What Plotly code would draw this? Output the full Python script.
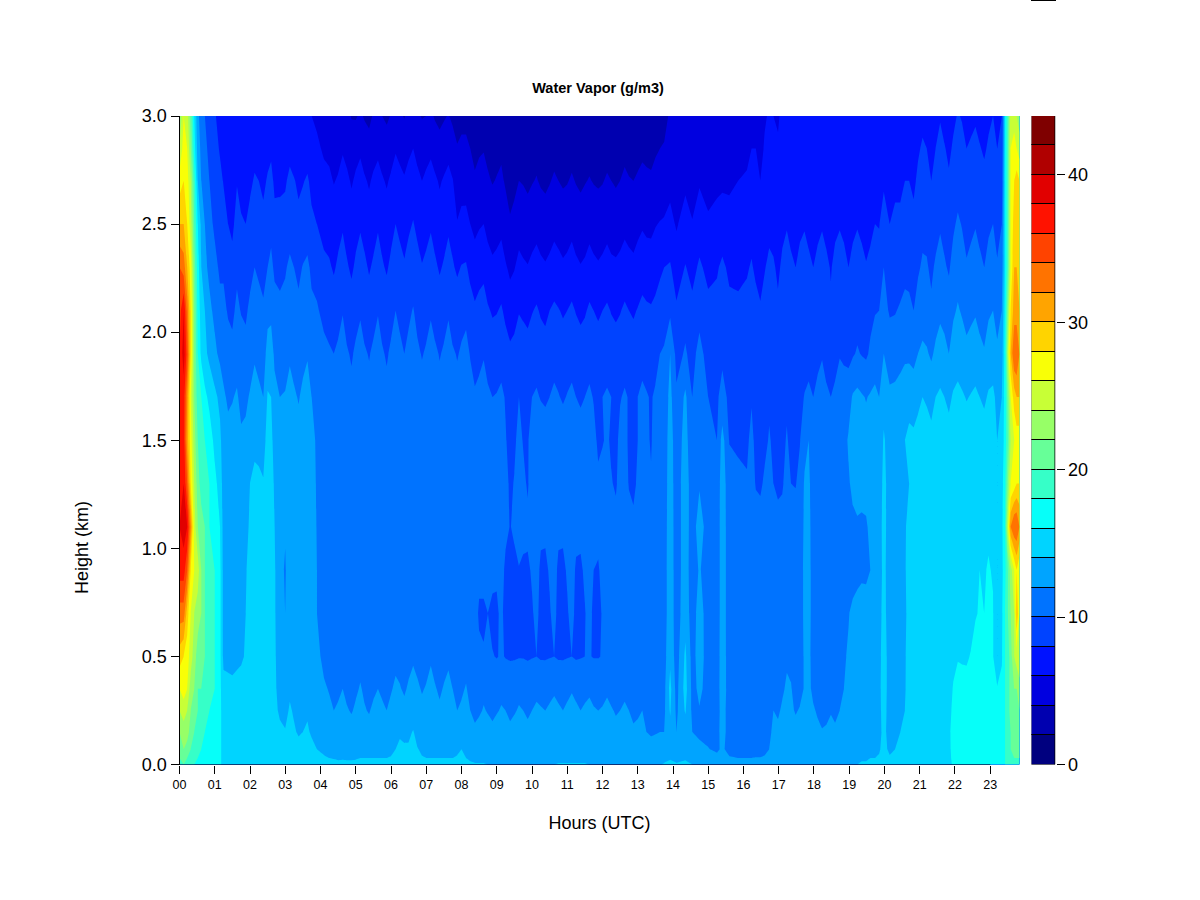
import numpy as np
import plotly.graph_objects as go

heights_km = [0, .03, .07, .15, .25, .35, .5, .7, .9, 1.1, 1.3, 1.5, 1.7, 1.9, 2.1, 2.3, 2.5, 2.7, 2.85, 3.0]

hours = [0, .12, .22, .32, .42, .52, .62, .72, .85, 1.0, 1.15, 1.25, 1.5, 1.75, 2.0, 2.25, 2.5, 2.7, 2.85, 3.0,
         3.25, 3.5, 3.75, 3.9, 4.1, 4.25, 4.5, 4.75, 5.0, 5.25, 5.5, 5.75, 6.0, 6.25, 6.5, 6.75, 7.0, 7.25, 7.5, 7.75,
         8.0, 8.25, 8.5, 8.75, 9.0, 9.25, 9.5, 9.75, 10.0, 10.25, 10.5, 10.75, 11.0, 11.25, 11.5, 11.75, 12.0, 12.25,
         12.5, 12.75, 13.0, 13.25, 13.5, 13.75, 13.92, 14.1, 14.35, 14.55, 14.75, 15.0, 15.25, 15.4, 15.6, 15.85,
         16.1, 16.35, 16.6, 16.85, 17.1, 17.35, 17.6, 17.85, 18.1, 18.35, 18.6, 18.85, 19.1, 19.35, 19.6, 19.85,
         19.98, 20.15, 20.45, 20.7, 20.95, 21.2, 21.45, 21.7, 21.95, 22.2, 22.45, 22.7, 22.95, 23.2, 23.33, 23.42,
         23.5, 23.58, 23.68, 23.75, 23.83]

vapor_profiles = [
    [20,20,21,22,24,26,29,33,37,38,37,36,36,36,35,34,30,27,24,22],
    [20,21,22,23,25,27,28,33,37,39,38,37,37,39,38,33,30,28,27,26],
    [20,20,21,23,24,26,27,29,34,38,34,31,32,35,33,30,28,27,26,25],
    [19,19,20,21,22,23,25,26,28,32,28,27,26,28,28,27,25,24,22,21],
    [18,19,19,20,21,22,23,24,26,25,24,23,22,22,22,21,20,19,17,16],
    [18,18,19,19,20,20,21,23,25,22,21,20,19,18,17.5,17,16,14,13,12.5],
    [18,18,18,19,19,20,21,22,22,21,19,19,18,15.5,15,14,13.5,12,11.5,11],
    [18,18,18,18,19,20,20,20,20,20,19,18,16.5,14.5,14,12.5,12,11,10.5,10],
    [17,18,18,18,18,19,19,19,19,18,18,17,15.5,13.5,12.5,11.5,10.5,10,9.5,9],
    [17,17,17,17,17,18,18,18,18,17,16.5,15.5,14.5,12.5,11.5,10.5,9.7,9.3,8.7,8.2],
    [16.5,16.5,16.5,16.5,16.5,16.5,16.5,16.5,16.5,16,15.3,14.5,13.5,11.5,10.5,9.7,9,8.5,7.8,7.3],
    [15,15,15,15,15,14.7,13.5,13.3,13.3,13.2,13,12.8,12.2,11.5,10.5,9.7,8.7,7.9,7.3,6.5],
    [15,15,15,15,15,14.5,13.3,13,13,12.8,12.4,12.6,11.9,10.5,9.6,8.6,7.6,7,6.5,6],
    [15,15,15,15,15,14.8,13.7,13,13,12.9,12.6,12.3,11.5,10.8,9.9,9,8.2,7.4,6.8,6.2],
    [15,15,15,15,15,15,14.6,14.4,14.4,14.2,14,13.5,12.2,11,10.4,9.4,8.6,7.6,7,6.3],
    [15,15,15,15,15,15,15,15,14.8,14.6,14.2,13.7,12.4,11.4,10.8,9.6,8.9,8,7.2,6.5],
    [15.5,15.2,15,15,15,15,15,15,15,15,14.9,14.6,14.2,12.8,11.4,10,9,8.2,7.4,6.6],
    [15,15,15,14.9,14.6,14.3,14.2,14.2,14.2,14,13.8,13.4,12.6,11.6,10.8,9.6,8.6,7.6,7,6.4],
    [15,15,15,14.5,13.6,13.4,13.3,12.8,12.6,12.8,13,12.8,12,11.2,10.5,9.4,8.5,7.7,7.1,6.4],
    [15,15,14.8,14.1,13.5,13.2,12.8,12,11.8,12.2,12.8,12.6,12.1,11.4,10.6,9.8,8.6,7.8,7.1,6.4],
    [15,15,14.8,14.2,13.8,13.4,13.2,13,13,13.2,13.1,12.8,12.2,11.5,10.8,10,8.8,8.1,7.2,6.5],
    [15,15,14.7,14,13.6,13.2,13,13,13,13,13,12.9,12.3,11.6,10.7,10.1,8.7,7.9,7.1,6.3],
    [15,14.8,14.4,13.8,13.3,13.1,13,12.9,12.9,12.9,12.8,12.6,12,11.3,10.4,9.6,8.3,7.6,6.8,6],
    [15,14.4,14,13.6,13.2,12.8,12.4,12,12,11.9,11.8,11.7,11.4,10.9,10.2,9.3,8,7.4,6.4,5.6],
    [14.8,14.2,13.6,13.2,12.6,12.2,11.6,11.3,11.2,11.2,11.1,11,10.9,10.5,9.5,8.4,7.4,6.6,5.7,4.8],
    [14.6,14,13.4,13,12.3,11.9,11.4,11.1,11.1,11,11,11,10.8,10.2,9.3,8.2,7.3,6.4,5.5,4.8],
    [14.4,13.8,13.2,12.8,12.2,11.7,11.3,11,11,11,11,11,10.8,10.3,9.4,8.3,7.4,6.2,5.3,4.6],
    [14.2,13.9,13.3,12.7,12.1,11.7,11.3,11,11,11,11,11,10.9,10.2,9.2,8.2,7.3,6.4,5.4,4.4],
    [14.3,13.9,13,12.6,12.2,11.8,11.4,11,11,11,11,11,10.8,10.3,9.4,8.3,7.4,6.3,5.4,3.8],
    [14.2,14,13.3,12.7,12.1,11.8,11.3,11,11,11,11,11,10.9,10.2,9.3,8.4,7.3,6.2,5.2,3.8],
    [14.2,14,13.2,12.7,12.3,11.7,11.3,11,11,11,11,11,10.8,10.3,9.4,8.3,7.2,6.3,5.3,4.2],
    [14.3,14,13.3,12.8,12.2,11.8,11.4,11,11,11,11,11,10.9,10.2,9.3,8.2,7.4,6.2,5.2,4],
    [14.4,14.1,13.6,12.9,12.3,11.9,11.4,11,11,11,11,11,10.8,10.3,9.4,8.4,7.4,6.3,5.2,4.1],
    [14.8,14.5,14.3,13.8,12.6,12.1,11.5,11.1,11,11,11,11,10.9,10.4,9.6,8.6,7.6,6.6,5.4,4.2],
    [14.6,14.4,14.2,13.7,12.7,12.2,11.5,11,11,11,11,11,11,10.4,9.7,8.7,7.7,6.7,5.6,4.4],
    [14.5,14.3,14.1,13.4,12.6,12.2,11.6,11,11,11,11.2,11,10.9,10.3,9.5,8.6,7.6,6.5,5.4,4.2],
    [14.3,14,13.5,12.8,12.4,12.1,11.5,11,11,11,11,11,10.8,10.2,9.4,8.4,7.4,6.4,5.3,4],
    [14.2,14,13.5,12.9,12.5,12.1,11.5,11,11,11,11.1,11,10.8,10.3,9.3,8.3,7.3,6.3,5.1,3.8],
    [14.2,14,13.4,12.8,12.4,12.1,11.5,11,11,11,11,11,10.9,10.2,9.4,8.2,7.2,6.2,5,3.8],
    [14.3,14,13.5,12.9,12.3,12,11.4,11,11,11,11,11,10.8,10.2,9.2,8.2,7.3,6.1,4.9,3.6],
    [14.4,14.1,14,13,12.2,11.8,11.2,11,11,11,11,11,10.8,10.2,9.5,8.1,6.5,5.3,4.3,3.6],
    [14.2,13.8,13.4,12.6,12,11.6,10.8,10.2,10.6,11,11,10.9,10.6,9.9,8.9,7.4,6,4.8,4,3.4],
    [14.1,13.7,13.3,12.5,11.8,11.5,10.3,9.8,10.4,11,11,10.9,10.4,9.6,8.6,7.3,5.8,4.5,3.8,3.2],
    [14,13.6,13.2,12.5,11.9,11.4,10.1,10,10.6,11,11,10.8,10.3,9.3,8.2,6.8,5.4,4.2,3.6,3.1],
    [14,13.5,13.2,12.5,11.9,11.4,9.9,9.7,10.3,10.9,11,10.6,10.1,9.1,7.9,6.6,5.2,4.1,3.5,3],
    [14,13.6,13.2,12.5,12,11.5,9.9,9.4,9.5,10.6,10.6,10.1,9.9,8.8,7.6,6.2,4.8,3.8,3.3,2.9],
    [14,13.6,13.2,12.4,11.9,11.5,9.8,9.3,9.4,10.4,10.1,9.7,9.7,8.6,7.3,5.9,4.5,3.6,3.2,2.8],
    [14,13.6,13.2,12.5,12,11.5,9.9,9.5,9.6,10.7,10.4,9.9,9.9,8.9,7.7,6.3,4.9,3.9,3.4,2.9],
    [14,13.6,13.2,12.5,12,11.5,9.9,9.8,10.2,11,11,10.9,10,9,7.9,6.5,5,3.9,3.3,2.8],
    [14,13.6,13.2,12.5,12.1,11.6,9.8,9.4,9.5,10.6,11,11,9.9,8.9,7.8,6.4,5,3.8,3.3,2.8],
    [14,13.7,13.2,12.6,12.2,11.6,9.9,9.8,10.2,11,10.9,11,10,9.1,8,6.5,5,3.9,3.3,2.8],
    [14.1,13.7,13.3,12.6,12.2,11.6,9.8,9.4,9.5,10.6,11,11,10.1,9.2,8.1,6.6,5.2,4,3.3,2.8],
    [14.1,13.7,13.3,12.6,12.2,11.7,9.9,9.8,10.2,10.9,10.8,10.5,10.1,9.1,8,6.5,5.1,3.9,3.2,2.7],
    [14.1,13.7,13.3,12.6,12.2,11.7,9.8,9.5,9.7,10.7,11,10.9,10,9,7.9,6.4,5,3.9,3.2,2.7],
    [14.1,13.7,13.3,12.6,12.2,11.6,10,9.9,10.3,10.9,10.7,10.3,10,9,7.8,6.3,5,3.9,3.2,2.7],
    [14,13.6,13.2,12.6,12.1,11.6,9.9,9.6,10,10.8,10.9,10.5,9.9,9.1,8,6.4,5.1,3.9,3.3,2.8],
    [14,13.6,13.2,12.5,12.1,11.6,10.1,10.1,10.6,11,10.5,9.9,10,9.1,8,6.4,5.1,3.9,3.3,2.8],
    [14,13.6,13.2,12.5,12.1,11.6,11,10.8,10.8,10.8,10.1,9.8,10,9,7.9,6.4,5.1,4,3.3,2.8],
    [14,13.6,13.1,12.5,12,11.5,10.9,10.9,11,11,10.6,10.4,9.9,9,7.9,6.5,5.2,4,3.4,2.9],
    [14,13.5,13,12.4,12,11.5,11,11,11,10.6,9.9,9.7,9.9,8.9,8,6.6,5.3,4.1,3.4,2.9],
    [14,13.5,12.9,12.3,11.8,11.4,11,11,11,10.8,10.2,10,10,9.2,8.1,6.8,5.5,4.2,3.5,3],
    [13.9,13.4,12.8,12,11.7,11.3,10.9,11,11,10.9,10.3,10.2,10.1,9.4,8.3,6.9,5.6,4.3,3.6,3.1],
    [13.9,13.3,12.6,11.9,11.5,11.2,11,11,11,11,10.6,10.5,10.2,9.5,8.5,7.1,5.9,4.5,3.8,3.2],
    [14.2,13.4,12.6,12,11.6,11.4,11.2,11.1,11.1,11.1,11,10.8,10.7,10.2,9.2,8,6.2,5,4.1,3.6],
    [14.5,13.8,13.4,13.4,14.2,14.6,13.6,13.2,13.2,13.1,13,13,12.6,12,9.6,8.2,6.6,5.4,4.8,4.2],
    [14.2,13.4,12.7,12,11.6,11.3,11,11,11,11,11,10.8,10.3,9.4,8.3,7,5.8,5,4.5,4],
    [14.4,13.8,13.2,13,14.2,14.8,14.4,13.2,13,13,13,12.8,12.4,10.2,9.4,8.1,6.8,5.6,5,4.5],
    [14,13.5,13,12,11.6,11.4,11.2,11,10.9,11,11,10.5,10,9.4,8.5,7.4,6.1,5.2,4.6,4.2],
    [14,13.4,12.5,11.6,11.9,12.4,13,12.9,12.2,13,11.8,11.2,11.8,10.6,9.4,8.3,7,5.8,5,4.4],
    [13.8,13,12.1,11.4,11.4,11.3,11,11,11,11,11,10.3,10,9.3,8.5,7.5,6.3,5.3,4.8,4.6],
    [13.6,12.6,11.6,11.2,11,11,11,11,11,11,10.8,10,9.8,9.3,8.6,7.8,6.6,5.6,5,4.9],
    [13.8,12.8,12.4,13,13,13.2,13.1,13,13,13,13,12.8,10.5,9.7,9,8.4,6.8,5.7,5.4,5.4],
    [13.5,12.2,11.2,10.9,10.9,11,11,11,11,11,10.9,9.9,9.7,9.1,8.5,7.6,6.4,5.8,5.4,5.3],
    [13.6,12,11.1,10.9,10.9,10.9,11,11,11,11,10.3,9.8,9.5,9,8.4,7.5,6.5,6,5.6,5.4],
    [13.5,12,10.9,10.8,10.8,10.8,11,11,11,10.8,10.1,9.8,9.4,8.9,8.6,7.8,6.8,6.1,5.8,5.5],
    [13.6,12.1,10.9,10.7,10.7,10.8,11,11,11,10.6,9.9,9.7,9.5,9.1,8.7,7.6,6.9,6.3,6,5.7],
    [13.7,12.2,11.5,11,10.8,10.8,11,11,11,11,10.2,9.7,9.4,9,8.6,7.9,7,6.4,6.1,5.9],
    [13.8,13.4,13,12.4,12,12,11.5,11.2,11,10.8,10,9.8,9.6,9.2,8.8,8.2,7.4,6.6,6.2,6],
    [13.8,13.5,13,12.5,12.2,11.8,11.5,11.2,11,10.6,9.8,9.7,9.5,9,8.6,8.3,7.6,6.8,6.4,6.2],
    [13.9,13.5,13,12.6,12.2,12.1,11.6,11.3,11.2,11,10,9.7,9.4,9,8.6,8.3,7.5,6.7,6.3,6.1],
    [13.9,13.5,13,12.5,12.1,11.6,11.2,11.1,11.1,11,10.6,9.9,9.4,8.9,8.6,8.4,7.7,6.8,6.4,6.2],
    [14,13.6,13.2,12.8,12.5,12.4,12.6,12.8,12.8,12.6,12.4,12,10.4,9.3,8.6,8.3,7.6,6.7,6.4,6.2],
    [14,13.6,13,12.4,11.8,11.3,11,11,11,11,10.8,10.6,10.4,9.6,8.5,8.3,7.7,6.6,6.3,6.1],
    [14,13.6,13,12.2,11.6,11.1,11,10.9,11,11,11,10.9,10.3,9.4,8.5,8.3,7.6,6.6,6.3,6.1],
    [14,13.6,13,12.3,11.6,11.2,11.2,11.3,11.1,11.2,11.1,11.1,10.3,9.5,8.6,8.4,7.7,6.7,6.4,6.2],
    [14,13.7,13.2,12.8,12.3,12,11.8,11.6,11.3,11.5,11.5,11.4,10.8,9.7,8.7,8.4,7.7,6.8,6.5,6.3],
    [14,13.8,13.4,13,12.9,12.8,12.6,12.4,11.2,11.6,12.4,12.8,12.2,9.8,8.8,8.5,7.6,6.7,6.4,6.2],
    [14.1,13.9,13.6,13.3,13.1,13,13,12.9,11.6,11.8,12.4,12.8,12.2,9.9,8.9,8.4,7.7,6.8,6.4,6.1],
    [14.2,14,13.8,13.4,13.2,13.1,13,13,12,12.2,12.6,12.8,12.2,10.3,9.5,8.4,7.6,7,6.6,6.3],
    [14.3,14.1,13.9,13.6,13.6,13.6,13.5,13.4,13.2,13.4,13.2,12.8,12,11,10,8.8,7.9,7.2,6.8,6.4],
    [14.6,14.4,14.3,14.4,14.6,14.8,14.8,14.6,14.5,14.5,14.4,14.2,13.4,12,10.6,10,9.2,7.6,7,6.5],
    [14.4,14.1,13.8,13.4,13.3,13.2,13.2,13,13,13.2,13.4,13.2,12.4,11,9.8,8.8,8,7.4,6.9,6.5],
    [14.6,14.4,14.2,14,13.7,13.4,13.4,13.2,13.4,13.6,13.7,13.8,13,11.2,10.2,9.2,8.4,7.6,7.1,6.8],
    [15,15,14.9,14.6,14.4,14.5,14.4,14.4,14.4,14.3,14,14.4,13.4,11.6,10.3,9.6,8.7,8,7.6,7],
    [15,15,15,14.8,14.5,14.6,14.6,14.5,14.2,14.5,14.6,14.6,13.6,12,10.6,9.8,9,8.3,7.8,7.2],
    [15,15,15,14.9,14.6,14.7,14.7,14.5,14.2,14.5,14.8,14.7,13.8,12.2,11,10.2,9.4,8.5,8,7.5],
    [15,15,15,15,14.8,14.8,14.8,14.5,14.3,14.6,14.8,14.7,14,12.4,11.1,10.3,9.2,8.5,8,7.6],
    [15.2,15.2,15.2,15.1,15,15,15,14.8,14.6,14.7,14.9,14.8,14,12.6,11.3,10.2,9.5,8.6,8.1,7.5],
    [16.2,16.3,16.3,16.4,16.3,16.1,15.6,15,14.9,15,15,14.9,14.2,12.9,11.7,10.7,9.7,8.8,8.2,7.7],
    [16.5,16.5,16.6,16.8,16.8,16.6,15.8,15.2,15,15,15,15,14.2,13,11.8,10.8,9.9,8.9,8.4,7.9],
    [16.8,16.8,16.9,17,16.9,16.7,16.1,15.4,15.1,15,15,15,14.1,12.9,11.5,10.5,9.6,8.8,8.2,7.6],
    [17,17,17.1,17.4,17.3,17,16.6,16.1,16,15.6,15.2,14.9,14,12.6,11.3,10.4,9.5,8.7,8.1,7.5],
    [16.9,16.9,17,17.2,17.1,16.8,16.4,16.2,16.1,15.8,15.4,15,14.2,13,11.7,10.6,9.7,8.9,8.2,7.7],
    [16.8,16.6,16.4,16.4,16.3,16.2,14,14,14,14,14,14,13.6,12.4,11.2,10.2,9.3,8.5,8,7.6],
    [17,17,17,17,16.8,16.5,15.8,15.6,15.4,15.5,15.2,14.6,14,13,12,11,10,9,8.5,8],
    [18,18,18,18,18,18,18,18,17.5,18,17.5,17,17,17,16.5,16,16,16,16,16],
    [19,19,19,19,19,19,19,20,20,25,22,20,21,24,22,20,20,20,20,20],
    [19,20,20,20,21,21,21,22,23,32,26,24,26,30,28,26,26,26,26,25],
    [20,20,21,21,22,22,24,24,26,34,27,26,29,34,31,30,29,28,27,25],
    [20,20,21,22,22,22,25,30,28,34,28,27,30,34,31,30,30,29,26,24],
    [20,20,21,21,22,23,26,26,26,32,28,27,30,32,30,29,28,28,25,23],
]

detail_hours = [1.38, 1.63, 1.88, 2.13, 2.38, 2.6, 3.13, 3.38, 3.63,
                4.38, 4.63, 4.88, 5.13, 5.38, 5.63, 5.88, 6.13, 6.38, 6.63, 6.88, 7.13, 7.38, 7.63, 7.88,
                8.13, 8.38, 8.63, 8.88, 9.13, 9.38, 9.63, 9.88, 10.13, 10.38, 10.63, 10.88, 11.13, 11.38, 11.63, 11.88,
                12.13, 12.38, 12.63, 12.88, 13.13, 13.38, 13.63,
                16.23, 16.48, 16.73, 16.98, 17.23, 17.48, 17.73, 17.98, 18.23, 18.48, 18.73, 18.98, 19.23, 19.48, 19.73,
                20.3, 20.58, 20.83, 21.08, 21.33, 21.58, 21.83, 22.08, 22.33, 22.58, 22.83, 23.08]

detail_profiles = [
    [15,15,15,15,15,14.6,13.4,13.1,13.1,13,12.6,12.4,11.8,10.8,9.8,9,8,7.2,6.6,6],
    [15,15,15,15,15,14.7,13.5,13.2,13.2,13.1,12.9,12.8,12.2,11.3,10.4,9.6,8.7,7.9,7.2,6.5],
    [15,15,15,15,15,14.9,14.2,14,13.9,13.6,13,12.5,11.6,10.6,9.7,8.8,8,7.2,6.6,6],
    [15,15,15,15,15,15,14.9,14.8,14.7,14.5,14.2,13.8,12.9,11.7,11,10,9.2,8.2,7.4,6.6],
    [15,15,15,15,15,15,15,15,14.7,14.4,14.1,13.4,12,11,10.3,9.3,8.5,7.6,7,6.3],
    [15,15,15,15,15,15,15,15,15,14.8,14.6,14.4,14,13,11.5,10.5,9.4,8.6,7.6,6.8],
    [15,15,14.9,14.5,14.2,13.7,13.3,13.1,13.2,13.2,13.3,13.1,12.5,11.8,11.2,10.4,9.1,8.4,7.5,6.8],
    [15,15,14.6,13.8,13.3,13,12.8,12.6,12.6,12.8,12.8,12.5,11.9,11.2,10.4,9.6,8.4,7.7,6.9,6.2],
    [15,14.9,14.6,14.2,13.8,13.4,13.2,13.1,13.1,13.1,13.1,13.1,12.5,11.9,11,10.4,9,8.2,7.3,6.5],
    [14.5,13.9,13.3,12.6,12,11.6,11.2,11,11,11,11,11,10.6,10,8.9,7.8,7,5.9,5,4.4],
    [14.3,13.9,13.2,13,12.5,12,11.5,11,11,11,11,11,11.1,10.8,9.9,8.8,7.8,6.8,5.8,4.8],
    [14.2,13.9,13.2,12.5,11.9,11.5,11.2,11,11,11,11,11,10.5,9.8,8.8,7.7,6.9,5.8,4.9,3.9],
    [14.2,14,13.2,12.9,12.4,12.1,11.6,11,11,11,11,11,11,10.7,9.8,8.8,7.8,6.7,5.7,4.3],
    [14.2,14,13.2,12.5,11.9,11.5,11.2,11,11,11,11,11,10.5,9.9,8.9,7.8,6.8,5.8,4.8,3.5],
    [14.2,14,13.3,13,12.5,12,11.5,11,11,11,11,11,11,10.7,9.9,8.8,7.8,6.7,5.6,4.5],
    [14.3,14,13.4,12.6,12,11.5,11.2,11,11,11,11,11,10.5,9.8,8.9,7.8,6.9,5.8,4.8,3.7],
    [14.6,14.3,14,13.2,12.6,12.2,11.7,11.1,11,11,11,11,11.1,10.8,10,9,8,7,5.8,4.5],
    [14.7,14.5,14.3,13.5,12.4,11.8,11.3,11,11,11,11,11,10.6,10,9.2,8.2,7.2,6.2,5.1,3.9],
    [14.6,14.4,14.2,14.1,13,12.5,11.8,11.1,11,11,11,11,11.2,10.8,10.1,9.1,8.1,7.1,6,4.7],
    [14.4,14.1,13.7,13,12.3,11.9,11.4,11,11,11,11,11,10.6,9.9,9,8.1,7.1,6,5,3.9],
    [14.2,14,13.5,13.2,12.8,12.5,11.8,11.1,11,11,11,11,11,10.7,9.8,8.8,7.8,6.8,5.6,4.3],
    [14.2,14,13.4,12.6,12.2,11.8,11.3,11,11,11,11,11,10.5,9.9,8.9,7.8,6.8,5.8,4.7,3.5],
    [14.3,14,13.5,13.2,12.7,12.4,11.7,11.1,11,11,11,11,11.1,10.7,9.8,8.7,7.7,6.6,5.4,4.1],
    [14.4,14.1,13.8,12.7,12,11.6,11.1,11,11,11,11,11,10.5,9.9,9,7.7,6.1,5,4.1,3.4],
    [14.3,14,13.7,12.9,12.5,12.1,11.5,10.9,11,11,11,11,10.9,10.5,9.6,8.2,6.6,5.2,4.3,3.6],
    [14.1,13.7,13.3,12.3,11.6,11.2,10.4,10.6,11,11,11,10.8,10.2,9.4,8.3,6.9,5.5,4.2,3.6,3.1],
    [14.1,13.7,13.3,12.7,12.1,11.7,10.2,9.6,10.8,11,11,11,10.6,9.9,8.8,7.5,6,4.7,3.9,3.4],
    [14,13.6,13.2,12.3,11.7,11.2,10.1,9.5,10.6,11,11,10.5,10,9,7.8,6.4,5,3.9,3.4,3],
    [14,13.6,13.2,12.7,12.1,11.7,10.2,10.4,11,11,11,10.9,10.3,9.4,8.2,6.9,5.5,4.3,3.7,3.1],
    [14,13.6,13.2,12.3,11.7,11.2,9.8,9.4,9.6,9.9,9.7,9.6,9.6,8.4,7,5.6,4.2,3.3,3,2.7],
    [14,13.6,13.2,12.7,12.1,11.7,9.9,9.6,9.9,10.9,10.6,10.5,10,9.1,7.9,6.6,5.1,4,3.5,3],
    [14,13.6,13.2,12.3,11.8,11.3,9.8,9.5,9.7,10.4,9.8,9.8,9.7,8.7,7.5,6.1,4.7,3.7,3.2,2.8],
    [14,13.6,13.2,12.7,12.2,11.7,10,10.5,11,11,11,11,10.2,9.3,8.2,6.8,5.3,4.1,3.5,2.9],
    [14,13.6,13.2,12.4,12,11.5,9.8,9.4,9.6,10.4,11,11,9.7,8.7,7.6,6.2,4.7,3.7,3.1,2.7],
    [14,13.7,13.3,12.8,12.4,11.8,10,10.6,11,11,11,11,10.3,9.4,8.3,6.9,5.4,4.2,3.5,2.9],
    [14.1,13.7,13.3,12.4,12,11.5,9.8,9.5,9.6,10.4,11,11,9.8,8.9,7.8,6.3,4.9,3.8,3.2,2.7],
    [14.1,13.7,13.3,12.8,12.4,11.9,10,10.6,10.9,11,11,10.8,10.3,9.4,8.3,6.9,5.4,4.2,3.4,2.8],
    [14.1,13.7,13.3,12.4,12,11.5,9.9,9.6,9.7,10.5,10.9,10.6,9.8,8.8,7.6,6.1,4.8,3.7,3.1,2.7],
    [14,13.6,13.2,12.8,12.3,11.8,10.1,10.6,10.8,11,10.8,10.2,10.3,9.3,8.3,6.8,5.3,4.1,3.4,2.8],
    [14,13.6,13.2,12.4,12,11.5,9.9,9.7,9.8,10.6,10.3,9.7,9.8,8.9,7.7,6.2,4.9,3.8,3.2,2.7],
    [14,13.6,13.2,12.7,12.3,11.8,10.1,10.6,11,10.9,10.7,10.2,10.2,9.3,8.3,6.7,5.4,4.2,3.4,2.9],
    [14,13.6,13.1,12.3,11.9,11.4,11,10.9,10.9,10.5,9.8,9.6,9.8,8.8,7.7,6.3,5,3.8,3.2,2.8],
    [14,13.6,13.1,12.6,12.2,11.7,11,11,11,11,10.8,10.6,10.2,9.3,8.3,6.9,5.5,4.3,3.6,3],
    [14,13.5,13,12.2,11.7,11.3,11,11,10.8,10.3,9.7,9.6,9.8,8.8,7.8,6.4,5.2,4,3.3,2.9],
    [14,13.4,12.8,12.3,12,11.6,11,11,11,11,10.6,10.5,10.3,9.5,8.5,7.1,5.8,4.4,3.7,3.1],
    [13.9,13.3,12.6,11.8,11.4,11.1,10.9,11,11,10.8,10.1,9.9,9.9,9.2,8.2,6.8,5.6,4.2,3.6,3.1],
    [13.9,13.3,12.6,12,11.7,11.4,11.1,11.1,11.1,11.2,11,11,10.6,10,9,7.6,6.1,4.8,4,3.4],
    [13.5,12,10.9,10.8,10.8,10.8,11,11,11,11,10.6,10.3,9.9,9.3,8.9,8.2,7.2,6.4,6,5.7],
    [13.6,12.1,10.9,10.7,10.7,10.8,11,11,11,10.5,9.8,9.5,9.2,8.7,8.2,7.3,6.5,6,5.7,5.5],
    [13.7,12.6,12,11.6,11.4,11.3,11.1,11,11,11,10.6,10.1,9.8,9.4,9,8.4,7.5,6.7,6.4,6.1],
    [13.8,13.4,13,12.3,11.8,11.5,11.2,11.1,11,10.5,9.7,9.5,9.2,8.8,8.3,7.7,6.9,6.4,6.1,5.9],
    [13.8,13.5,13,12.7,12.5,12.2,11.8,11.4,11.2,11,10.6,10.1,9.8,9.3,8.9,8.6,7.9,7.1,6.6,6.3],
    [13.9,13.5,13,12.4,11.9,11.4,11.1,11.1,11.1,10.8,9.9,9.6,9.2,8.7,8.3,8,7.3,6.5,6.2,6],
    [14,13.6,13.1,12.7,12.3,12.1,12.2,12.4,12.4,12.3,12.2,11.4,10.1,9.1,8.8,8.5,7.9,6.9,6.5,6.3],
    [14,13.6,13,12.6,12.2,11.6,11.1,11,11,11,11,10.9,10,9.2,8.3,8,7.4,6.5,6.2,6],
    [14,13.6,13,12.1,11.5,11,10.9,10.9,11,11,11,11,10.6,9.9,8.9,8.5,7.9,6.8,6.4,6.2],
    [14,13.6,13,12.4,11.9,11.3,11.1,11,11,11,10.8,10.6,10,9.1,8.2,7.9,7.3,6.4,6.2,6],
    [14,13.6,13.1,12.5,12,11.5,11.4,11.3,11.1,11.2,11.2,11.2,10.8,9.9,8.9,8.6,7.9,6.9,6.5,6.3],
    [14,13.7,13.3,12.9,12.5,12.3,12.2,11.9,11.2,11.3,11.8,12.2,11.2,9.4,8.4,8,7.4,6.5,6.3,6.1],
    [14,13.8,13.5,13.2,13,12.9,12.8,12.6,11.5,11.8,12.6,12.9,12.5,10.2,9.2,8.7,7.9,6.9,6.5,6.3],
    [14.1,13.9,13.7,13.3,13.1,13,13,12.8,11.6,11.9,12.3,12.7,11.9,9.7,8.7,8.1,7.4,6.6,6.3,6],
    [14.2,14,13.8,13.5,13.4,13.4,13.3,13.3,12.8,13,13,13,12.5,10.8,9.9,8.8,8,7.3,6.8,6.4],
    [14.5,14.2,14,13.7,13.5,13.3,13.3,13.1,13.2,13.4,13.5,13.4,12.6,10.9,9.9,9.1,8.3,7.7,7.2,6.8],
    [14.8,14.7,14.6,14.3,14,13.9,13.9,13.8,13.9,13.9,13.8,14,13.3,11.6,10.4,9.6,8.7,8,7.5,7.2],
    [15,15,15,14.7,14.5,14.5,14.5,14.4,14.3,14.4,14.3,14.3,13.3,11.3,10,9.2,8.4,7.7,7.3,6.8],
    [15,15,15,14.8,14.6,14.7,14.7,14.6,14.3,14.6,14.8,14.8,14,12.4,11.1,10.2,9.6,8.7,8.2,7.6],
    [15,15,15,14.9,14.7,14.7,14.7,14.4,14.1,14.4,14.7,14.5,13.4,11.7,10.4,9.6,8.8,8,7.6,7.2],
    [15.1,15.1,15.1,15,14.9,14.9,14.9,14.7,14.5,14.7,14.9,14.9,14.3,12.9,11.6,10.7,9.8,8.9,8.4,7.9],
    [15.6,15.7,15.8,15.8,15.6,15.4,15.1,14.8,14.7,14.8,14.9,14.7,13.6,12,10.8,9.8,9,8.2,7.7,7.2],
    [16.4,16.4,16.5,16.7,16.7,16.5,15.9,15.2,15,15,15,15,14.4,13.3,12.2,11.2,10.3,9.2,8.7,8.1],
    [16.6,16.6,16.7,16.9,16.8,16.5,15.8,15.1,14.9,15,15,14.9,13.9,12.6,11.2,10.2,9.3,8.5,8,7.5],
    [16.9,16.9,17,17.3,17.2,16.9,16.5,15.9,15.6,15.5,15.2,15,14.3,13.1,11.8,10.8,9.9,9,8.4,7.8],
    [17,17,17,17.3,17.2,16.9,16.4,16,15.9,15.5,15,14.8,13.7,12.2,10.9,10,9.2,8.4,7.8,7.3],
    [16.8,16.8,16.9,17,16.9,16.6,16.1,16.1,15.9,15.6,15.2,14.9,14.3,13.2,12,10.9,10,9.2,8.5,8],
]

band_colors = ["#00007F", "#0000B0", "#0000E0", "#0012FF", "#0043FF", "#0073FF", "#00A4FF", "#00D4FF",
               "#06FFF9", "#36FFC8", "#67FF98", "#97FF67", "#C8FF36", "#F9FF06", "#FFD400", "#FFA400",
               "#FF7300", "#FF4300", "#FF1200", "#E10000", "#B00000", "#7F0000"]
band_step = 2
x_tick_hours = list(range(24))
x_tick_labels = [f"{h:02d}" for h in x_tick_hours]
colorbar_ticks = [0, 10, 20, 30, 40]

W, H = 1200, 900
all_hours = np.array(hours + detail_hours)
order = np.argsort(all_hours)
z = np.array(vapor_profiles + detail_profiles, dtype=float)[order].T
n = len(band_colors)
scale = []
for i, c in enumerate(band_colors):
    scale += [[i / n, c], [(i + 1) / n, c]]

fig = go.Figure()
fig.add_trace(go.Contour(
    x=all_hours[order], y=heights_km, z=z, zmin=0, zmax=n * band_step, colorscale=scale, showscale=False,
    autocontour=False, contours=dict(start=0, end=n * band_step, size=band_step, coloring="fill"),
    line=dict(width=0, smoothing=0), xaxis="x", yaxis="y",
))
fig.add_trace(go.Bar(
    x=[0] * n, y=[band_step] * n, base=[i * band_step for i in range(n)], width=1,
    marker=dict(color=band_colors, line=dict(color="black", width=1)),
    xaxis="x2", yaxis="y2", showlegend=False,
))

font = "Liberation Sans"
fig.update_layout(
    width=W, height=H, margin=dict(l=0, r=0, t=0, b=0, autoexpand=False), paper_bgcolor="white", plot_bgcolor="white",
    font=dict(family=font, color="black"), showlegend=False, barmode="overlay", bargap=0,
    title=dict(text="<b>Water Vapor (g/m3)</b>", x=598 / W, xanchor="center", y=1 - 88 / H, yanchor="middle",
               font=dict(size=14.5, family=font)),
    xaxis=dict(domain=[179.5 / W, 1019.5 / W], range=[0, 23.83], tickmode="array", tickvals=x_tick_hours,
               ticktext=x_tick_labels, ticks="outside", ticklen=8, tickwidth=1, tickcolor="black",
               tickfont=dict(size=12.5), showgrid=False, zeroline=False, showline=False,
               title=dict(text="Hours (UTC)", font=dict(size=18), standoff=25)),
    yaxis=dict(domain=[1 - 764.5 / H, 1 - 116 / H], range=[0, 3], tickmode="array", tickvals=[0, .5, 1, 1.5, 2, 2.5, 3],
               ticktext=["0.0", "0.5", "1.0", "1.5", "2.0", "2.5", "3.0"], ticks="outside", ticklen=8, tickwidth=1,
               tickcolor="black", tickfont=dict(size=18), showgrid=False, zeroline=False,
               showline=True, linecolor="black", linewidth=1),
    xaxis2=dict(domain=[1031.5 / W, 1055.5 / W], range=[-0.5, 0.5], anchor="y2", visible=False),
    yaxis2=dict(domain=[1 - 764.5 / H, 1 - 116 / H], range=[0, n * band_step], anchor="x2", side="right",
                tickmode="array", tickvals=colorbar_ticks, ticks="outside", ticklen=8, tickwidth=1, tickcolor="black",
                tickfont=dict(size=18), showgrid=False, zeroline=False, showline=False),
    annotations=[dict(text="Height (km)", xref="paper", yref="paper", x=82 / W, y=1 - 548 / H, xanchor="center",
                      yanchor="middle", textangle=-90, showarrow=False, font=dict(size=18))],
    shapes=[dict(type="line", xref="x", yref="y", x0=x_tick_hours[0], x1=x_tick_hours[-1], y0=0, y1=0,
                 line=dict(color="black", width=1), layer="above"),
            dict(type="line", xref="paper", yref="paper", x0=1031 / W, x1=1056 / W, y0=1, y1=1,
                 line=dict(color="black", width=2))],
)
fig.write_html("out.html", config={"displayModeBar": False}, post_script="document.body.style.margin='0px';")
